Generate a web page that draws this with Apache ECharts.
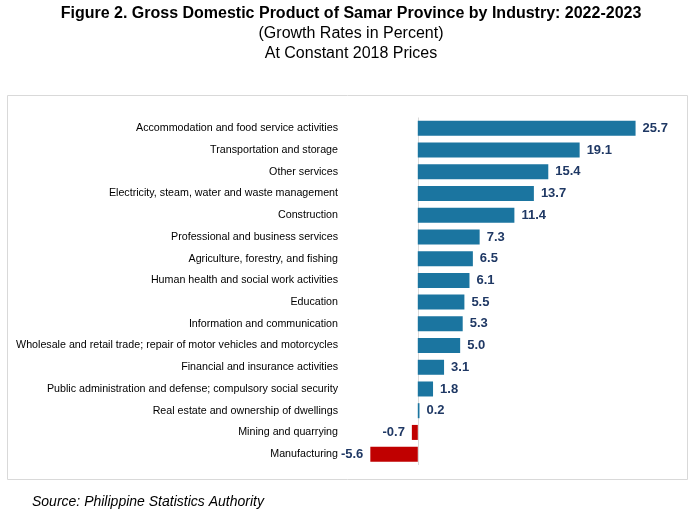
<!DOCTYPE html>
<html><head><meta charset="utf-8">
<script src="https://cdn.jsdelivr.net/npm/echarts@6/dist/echarts.min.js"></script>
<style>html,body{margin:0;padding:0;background:#fff}#c{width:694px;height:513px}</style>
</head><body><div id="c"></div>
<script>
const categories = [
  "Accommodation and food service activities",
  "Transportation and storage",
  "Other services",
  "Electricity, steam, water and waste management",
  "Construction",
  "Professional and business services",
  "Agriculture, forestry, and fishing",
  "Human health and social work activities",
  "Education",
  "Information and communication",
  "Wholesale and retail trade; repair of motor vehicles and motorcycles",
  "Financial and insurance activities",
  "Public administration and defense; compulsory social security",
  "Real estate and ownership of dwellings",
  "Mining and quarrying",
  "Manufacturing"
];
const growthRates = [25.7, 19.1, 15.4, 13.7, 11.4, 7.3, 6.5, 6.1, 5.5, 5.3, 5.0, 3.1, 1.8, 0.2, -0.7, -5.6];

const POS = '#1b75a0', NEG = '#c00000';
const seriesData = growthRates.map(v => ({
  value: v,
  itemStyle: { color: v < 0 ? NEG : POS },
  label: { position: v < 0 ? 'left' : 'right' }
}));

const chart = echarts.init(document.getElementById('c'), null, { renderer: 'canvas' });
const sans = '"Liberation Sans", Arial, sans-serif';
chart.setOption({
  animation: false,
  graphic: [
    { type: 'rect', shape: { x: 7.5, y: 95.5, width: 680, height: 384 },
      style: { fill: 'none', stroke: '#d9d9d9', lineWidth: 1 }, z: -1 },
    { type: 'text', x: 351, y: 14,
      style: { text: 'Figure 2. Gross Domestic Product of Samar Province by Industry: 2022-2023',
        font: 'bold 16px ' + sans, fill: '#000', textAlign: 'center', textVerticalAlign: 'middle' } },
    { type: 'text', x: 351, y: 34,
      style: { text: '(Growth Rates in Percent)', font: '16px ' + sans, fill: '#000', textAlign: 'center', textVerticalAlign: 'middle' } },
    { type: 'text', x: 351, y: 54,
      style: { text: 'At Constant 2018 Prices', font: '16px ' + sans, fill: '#000', textAlign: 'center', textVerticalAlign: 'middle' } },
    { type: 'text', x: 32, y: 502,
      style: { text: 'Source: Philippine Statistics Authority', font: 'italic 14px ' + sans, fill: '#000', textVerticalAlign: 'middle' } }
  ],
  grid: { left: 350, right: 22, top: 117.5, height: 347.5, containLabel: false },
  xAxis: { type: 'value', min: -8, max: 30, show: false },
  yAxis: {
    type: 'category', data: categories, inverse: true,
    axisLine: { show: false, onZero: false }, axisTick: { show: false },
    axisLabel: { margin: 12, color: '#000', fontSize: 10.7, fontFamily: sans }
  },
  series: [
    {
      type: 'line', data: [], z: 1, silent: true,
      markLine: {
        silent: true, symbol: 'none', label: { show: false }, z: 1,
        lineStyle: { color: '#d9d9d9', type: 'solid', width: 1 },
        data: [{ xAxis: 0 }]
      }
    },
    {
      type: 'bar', data: seriesData, barWidth: 15, z: 5,
      label: { show: true, distance: 7, color: '#1f3864', fontWeight: 'bold', fontSize: 13,
        fontFamily: sans, formatter: p => p.value.toFixed(1) }
    }
  ]
});
</script></body></html>
